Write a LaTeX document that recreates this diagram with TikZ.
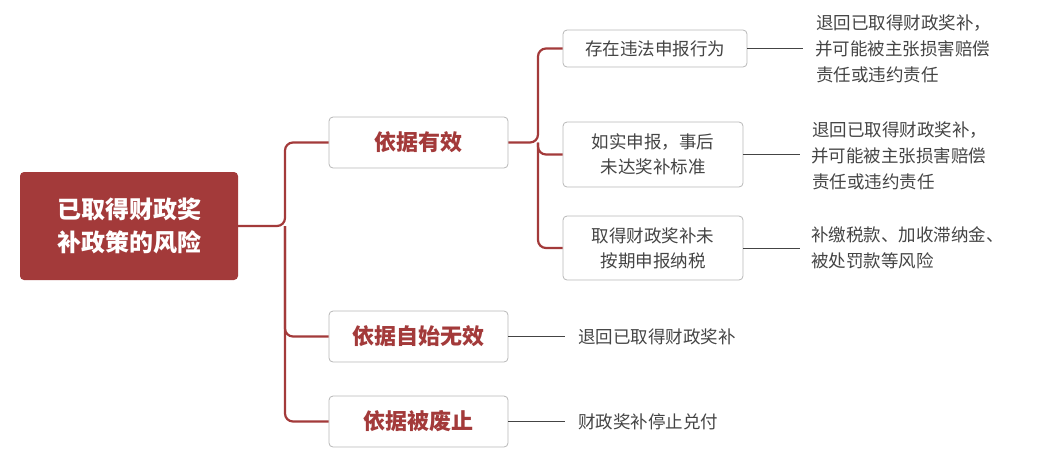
\documentclass[tikz,border=0pt]{standalone}
\usepackage{fontspec}
\setmainfont{Noto Sans CJK SC}
\begin{document}
\begin{tikzpicture}[x=1pt,y=-1pt,
  rootbox/.style={fill=rootred,rounded corners=4pt,text=white,font=\fontsize{24}{33}\selectfont\bfseries,align=center,inner sep=0},
  lone/.style={draw=boxgray,line width=0.8pt,fill=white,rounded corners=4pt,text=rootred,font=\fontsize{22}{26}\selectfont\bfseries,inner sep=0},
  ltwo/.style={draw=boxgray,line width=0.8pt,fill=white,rounded corners=4pt,text=txtgray,font=\fontsize{17.5}{25}\selectfont,align=center,inner sep=0},
  leaf/.style={text=txtgray,font=\fontsize{17.5}{26}\selectfont,align=left,anchor=west,inner sep=0},
  red/.style={draw=rootred,line width=2.2pt,rounded corners=8pt},
  gry/.style={draw=txtgray,line width=0.8pt}]
\definecolor{rootred}{HTML}{A33A3A}
\definecolor{boxgray}{HTML}{B8B8B8}
\definecolor{txtgray}{HTML}{444444}
\useasboundingbox (0,0) rectangle (1044,459);
\node[rootbox,minimum width=218,minimum height=108] (root) at (129,226) {已取得财政奖\\补政策的风险};
\node[lone,minimum width=179,minimum height=51] (a) at (418.5,142.5) {依据有效};
\node[lone,minimum width=179,minimum height=51] (b) at (418.5,336.5) {依据自始无效};
\node[lone,minimum width=179,minimum height=51] (c) at (418.5,421.5) {依据被废止};
\node[ltwo,minimum width=184,minimum height=37] (a1) at (655,48.5) {存在违法申报行为};
\node[ltwo,minimum width=180,minimum height=65] (a2) at (653,154.5) {如实申报，事后\\未达奖补标准};
\node[ltwo,minimum width=180,minimum height=64] (a3) at (653,248) {取得财政奖补未\\按期申报纳税};
\node[leaf] (t1) at (815,49) {\hspace*{1pt}退回已取得财政奖补，\\并可能被主张损害赔偿\\\hspace*{1pt}责任或违约责任};
\node[leaf] (t2) at (811,156) {\hspace*{1pt}退回已取得财政奖补，\\并可能被主张损害赔偿\\\hspace*{1pt}责任或违约责任};
\node[leaf] (t3) at (811,248) {补缴税款、加收滞纳金、\\被处罚款等风险};
\node[leaf] (t4) at (578,337) {退回已取得财政奖补};
\node[leaf] (t5) at (578,422) {财政奖补停止兑付};
\draw[red] (root.east) -- (285,226) |- (a.west);
\draw[red] (285,226) |- (b.west);
\draw[red] (285,226) |- (c.west);
\draw[red] (a.east) -- (538,142.5) |- (a1.west);
\draw[red] (538,142.5) |- (a2.west);
\draw[red] (538,142.5) |- (a3.west);
\draw[gry] (a1.east) -- (803,48.5);
\draw[gry] (a2.east) -- (800,154.5);
\draw[gry] (a3.east) -- (800,248);
\draw[gry] (b.east) -- (565,336.5);
\draw[gry] (c.east) -- (565,421.5);
\end{tikzpicture}
\end{document}
